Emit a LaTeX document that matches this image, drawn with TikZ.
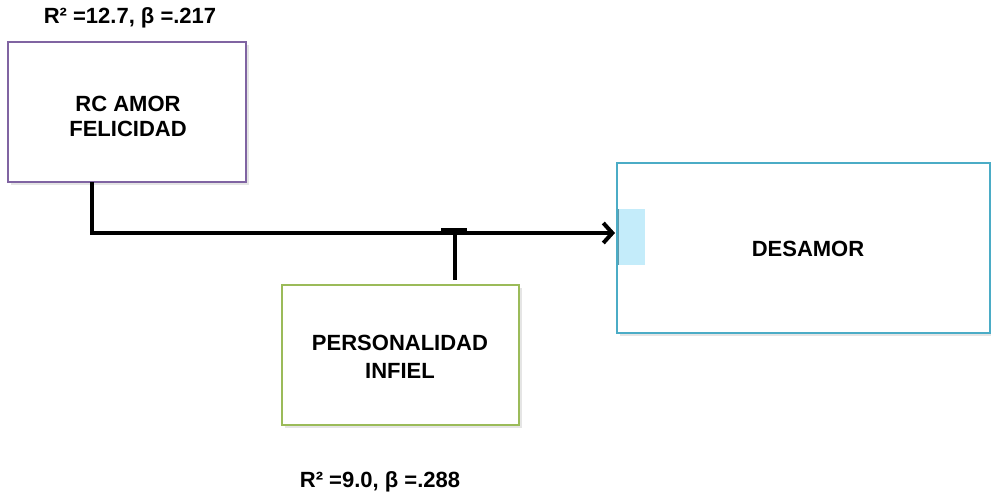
\documentclass[tikz,border=0pt]{standalone}
\usepackage{fontspec}
\setmainfont{Liberation Sans}
\usetikzlibrary{arrows.meta}
\definecolor{boxpurple}{HTML}{8064A2}
\definecolor{boxgreen}{HTML}{9BBB59}
\definecolor{boxblue}{HTML}{4BACC6}
\definecolor{lightcyan}{HTML}{C4ECFA}
\begin{document}
\begin{tikzpicture}[x=1pt,y=-1pt,
  cbox/.style={draw=#1,line width=1.3pt,fill=white},
  lbl/.style={font=\fontsize{22}{25}\selectfont\bfseries,align=center},
  conn/.style={line width=4pt,black}]
\useasboundingbox (0,0) rectangle (991,495);
% shadows
\fill[black!10] (11,45) rectangle (249,185);
\fill[black!10] (285,288) rectangle (522,428);
\fill[black!10] (620,166) rectangle (991,336);
% boxes
\draw[cbox=boxpurple] (8,42) rectangle (246,182);
\node[lbl] (rc) at (128,116) {RC AMOR\\FELICIDAD};
\coordinate (rcbot) at (92,182);
\draw[cbox=boxgreen] (282,285) rectangle (519,425);
\node[lbl,font=\fontsize{22}{28}\selectfont\bfseries] (pi) at (400,357) {PERSONALIDAD\\INFIEL};
\coordinate (pitop) at (455,280);
\draw[cbox=boxblue] (617,163) rectangle (990,333);
\fill[lightcyan] (618,209) rectangle (645,265);
\draw[boxblue!60!gray,line width=1pt] (618,209) -- (618,265);
\node[lbl] (des) at (808,249) {DESAMOR};
\coordinate (dein) at (615,233);
% labels
\node[lbl] (l1) at (130,18) {R² =12.7, β =.217};
\node[lbl] (l2) at (380,482) {R² =9.0, β =.288};
% connectors
\coordinate (corner) at (92,233);
\draw[conn,-{Straight Barb[length=9pt,width=20pt,line width=4pt]}] (rcbot) -- (corner) -- (dein);
\coordinate (tl) at (441,230);
\coordinate (tr) at (467,230);
\draw[conn] (tl) -- (tr);
\draw[conn] (455,230) -- (pitop);
\end{tikzpicture}
\end{document}
